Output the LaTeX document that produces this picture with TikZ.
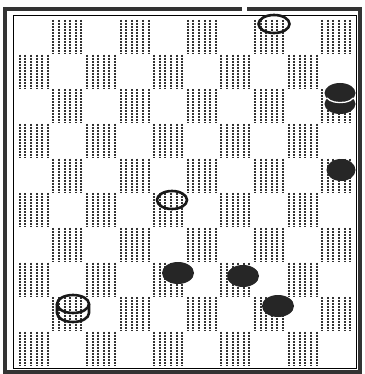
\documentclass[tikz,border=0pt]{standalone}
\begin{document}
\begin{tikzpicture}[x=1pt,y=-1pt,
  hatch/.style={line width=2.1pt, draw=black!80, dash pattern=on 2pt off 1pt},
  whitepc/.style={line width=2.6pt, draw=black!90},
  blackpc/.style={fill=black!85}]
\useasboundingbox (0,0) rectangle (364,374);
\fill[white] (0,0) rectangle (364,374);
\def\X{17}\def\Y{19.5}\def\W{33.6}\def\H{34.65}
\foreach \r in {0,...,9}{
  \foreach \c in {0,...,9}{
    \pgfmathtruncatemacro\oddsq{mod(\r+\c,2)}
    \ifnum\oddsq=1
      \foreach \k in {0,...,5}{
        \draw[hatch] ({\X+\c*\W+2.8+\k*5.6},{\Y+\r*\H+0.5}) -- ++(0,\H-1);
      }
    \fi
  }
}
% borders
\draw[line width=0.9pt] (13,15.5) rectangle (356,368.5);
\draw[line width=4pt, draw=black!80] (5,9) rectangle (360,371.5);
\fill[white] (242,6) rectangle (247,12);
% white pieces
\draw[whitepc] (274,24) ellipse [x radius=15.5pt, y radius=9pt];
\draw[whitepc] (172,200) ellipse [x radius=15pt, y radius=9pt];
% white king
\draw[whitepc] (57,304) -- (57,313) arc[start angle=180, end angle=360, x radius=16pt, y radius=9pt] -- (89,304);
\draw[whitepc] (73,304) ellipse [x radius=16pt, y radius=9pt];
% black king
\fill[blackpc] (340,104) ellipse [x radius=15.5pt, y radius=10pt];
\fill[blackpc] (340,93) ellipse [x radius=15.5pt, y radius=10pt];
\draw[white, line width=1.3pt] (327,98) arc[start angle=200, end angle=340, x radius=14pt, y radius=7pt];
% black pieces
\fill[blackpc] (341,170) ellipse [x radius=14.5pt, y radius=11pt];
\fill[blackpc] (178,273) ellipse [x radius=16pt, y radius=11pt];
\fill[blackpc] (243,276) ellipse [x radius=16pt, y radius=11pt];
\fill[blackpc] (278,306) ellipse [x radius=16pt, y radius=11pt];
\end{tikzpicture}
\end{document}
